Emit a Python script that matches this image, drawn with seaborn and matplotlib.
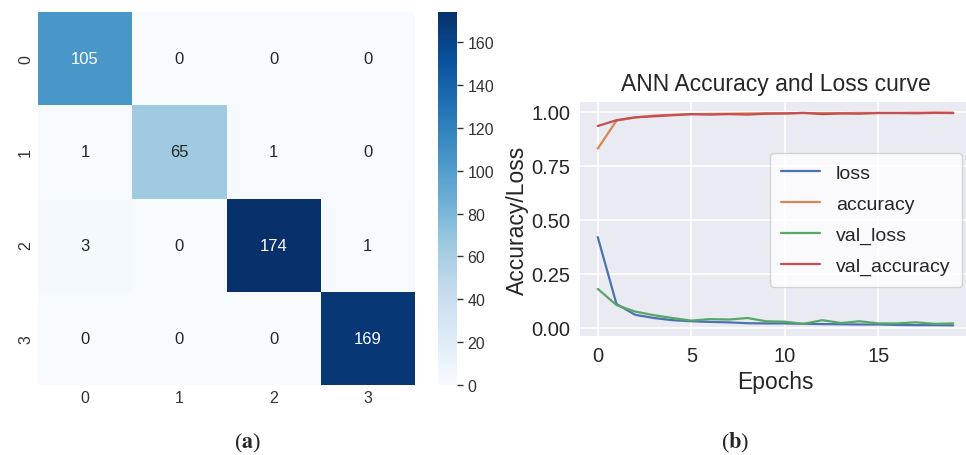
import matplotlib
matplotlib.use("Agg")
import matplotlib.pyplot as plt
import numpy as np
import pandas as pd
import seaborn as sns

# confusion matrix (rows: true, cols: predicted)
class_labels = ["0", "1", "2", "3"]
cm_row0 = [105, 0, 0, 0]
cm_row1 = [1, 65, 1, 0]
cm_row2 = [3, 0, 174, 1]
cm_row3 = [0, 0, 0, 169]

# training history
epochs = list(range(20))
loss = [0.42, 0.11, 0.06, 0.045, 0.035, 0.03, 0.027, 0.025, 0.021, 0.02,
        0.02, 0.018, 0.017, 0.016, 0.015, 0.015, 0.013, 0.012, 0.012, 0.011]
accuracy = [0.83, 0.96, 0.975, 0.983, 0.987, 0.99, 0.991, 0.992, 0.993, 0.994,
            0.994, 0.995, 0.995, 0.995, 0.996, 0.996, 0.996, 0.997, 0.997, 0.997]
val_loss = [0.18, 0.105, 0.075, 0.058, 0.045, 0.033, 0.04, 0.038, 0.045, 0.03,
            0.028, 0.018, 0.035, 0.022, 0.03, 0.02, 0.02, 0.025, 0.018, 0.02]
val_accuracy = [0.935, 0.962, 0.975, 0.98, 0.985, 0.99, 0.988, 0.99, 0.988, 0.992,
                0.993, 0.996, 0.99, 0.993, 0.992, 0.995, 0.995, 0.994, 0.996, 0.995]

sns.set_theme(style="white")
plt.rcParams["font.family"] = ["Liberation Sans", "DejaVu Sans"]
plt.rcParams["mathtext.fontset"] = "stix"

W, H = 966, 456
fig = plt.figure(figsize=(W / 100, H / 100), dpi=100)


def box(x0, y0, x1, y1):
    return [x0 / W, 1 - y1 / H, (x1 - x0) / W, (y1 - y0) / H]


# (a) confusion matrix heatmap
cm = pd.DataFrame([cm_row0, cm_row1, cm_row2, cm_row3],
                  index=class_labels, columns=class_labels)
ax1 = fig.add_axes(box(38, 13, 415, 386))
cax = fig.add_axes(box(438, 13, 457, 386))
sns.heatmap(cm, annot=True, fmt="d", cmap="Blues", ax=ax1, cbar_ax=cax,
            annot_kws={"fontsize": 12})
ax1.tick_params(labelsize=11.5, length=0, colors="#333333")
ax1.set_yticklabels(class_labels, rotation=90, va="center")
ax1.set_xticklabels(class_labels, rotation=0)
cax.tick_params(labelsize=11.5, right=True, length=4, width=1,
                color="#333333", labelcolor="#333333")

# (b) accuracy / loss curves, darkgrid look set by hand
hist = pd.DataFrame({"epoch": epochs, "loss": loss, "accuracy": accuracy,
                     "val_loss": val_loss, "val_accuracy": val_accuracy})
long = hist.melt(id_vars="epoch", var_name="metric", value_name="value")
ax2 = fig.add_axes(box(580, 103, 971, 337))
ax2.set_facecolor("#EAEAF2")
ax2.set_axisbelow(True)
ax2.grid(True, color="white", linewidth=1.2)
for sp in ax2.spines.values():
    sp.set_visible(False)
sns.lineplot(data=long, x="epoch", y="value", hue="metric",
             palette=sns.color_palette("deep")[:4], linewidth=1.6, ax=ax2)
ax2.set_title("ANN Accuracy and Loss curve", fontsize=16.5, color="#262626", pad=9)
ax2.set_xlabel("Epochs", fontsize=16.5, color="#262626")
ax2.set_ylabel("Accuracy/Loss", fontsize=16.5, color="#262626", labelpad=2)
ax2.set_xticks([0, 5, 10, 15])
ax2.set_yticks([0.0, 0.25, 0.5, 0.75, 1.0])
ax2.tick_params(labelsize=14.5, colors="#262626", length=0, pad=7)
handles, labels = ax2.get_legend_handles_labels()
ax2.legend(handles, labels, loc="upper right", bbox_to_anchor=(0.977, 0.782),
           borderaxespad=0, fontsize=14, handlelength=2.0,
           labelspacing=0.68, borderpad=0.6)

# panel captions
fig.text(248 / W, 1 - 443 / H, r"($\mathbf{a}$)", ha="center", va="center",
         fontsize=16, family="Liberation Serif")
fig.text(735 / W, 1 - 443 / H, r"($\mathbf{b}$)", ha="center", va="center",
         fontsize=16, family="Liberation Serif")

fig.savefig("out.png", dpi=100)
